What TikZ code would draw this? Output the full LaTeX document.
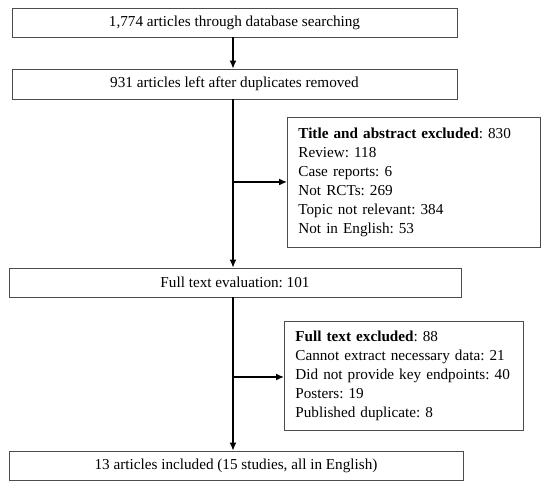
\documentclass[tikz,border=0pt]{standalone}
\usepackage{fontspec}
\setmainfont{Liberation Serif}
\frenchspacing
\usetikzlibrary{arrows.meta}
\begin{document}
\begin{tikzpicture}[x=1pt,y=-1pt,
  box/.style={draw=black!70,line width=0.8pt,inner sep=0pt,font=\fontsize{15.2}{19}\selectfont},
  exbox/.style={box,align=left,anchor=north west,inner xsep=11pt,inner ysep=0pt},
  arr/.style={line width=1.4pt,-{Latex[length=8pt,width=7pt]}}]
\useasboundingbox (0,0) rectangle (550,489);
\node[box,minimum width=445pt,minimum height=29pt] (b1) at (234.5,22.5) {1,774 articles through database searching};
\node[box,minimum width=445pt,minimum height=30pt] (b2) at (234.5,84) {931 articles left after duplicates removed};
\node[box,minimum width=452pt,minimum height=29pt] (b3) at (235,282.5) {Full text evaluation: 101};
\node[box,minimum width=454pt,minimum height=29pt] (b4) at (236,465.5) {13 articles included (15 studies, all in English)};
\node[exbox,minimum width=253pt,minimum height=130pt,text width=231pt] (e1) at (287,117)
  {\textbf{Title and abstract excluded}: 830\\Review: 118\\Case reports: 6\\Not RCTs: 269\\Topic not relevant: 384\\Not in English: 53};
\node[exbox,minimum width=239pt,minimum height=109pt,text width=217pt] (e2) at (284,321)
  {\textbf{Full text excluded}: 88\\Cannot extract necessary data: 21\\Did not provide key endpoints: 40\\Posters: 19\\Published duplicate: 8};
\coordinate (v) at (233,0);
\coordinate (j1) at (233,182);
\coordinate (j2) at (233,377);
\draw[arr] (b1.south -| v) -- (b2.north -| v);
\draw[arr] (b2.south -| v) -- (b3.north -| v);
\draw[arr] (b3.south -| v) -- (b4.north -| v);
\draw[arr] (j1) -- (e1.west |- j1);
\draw[arr] (j2) -- (e2.west |- j2);
\end{tikzpicture}
\end{document}
